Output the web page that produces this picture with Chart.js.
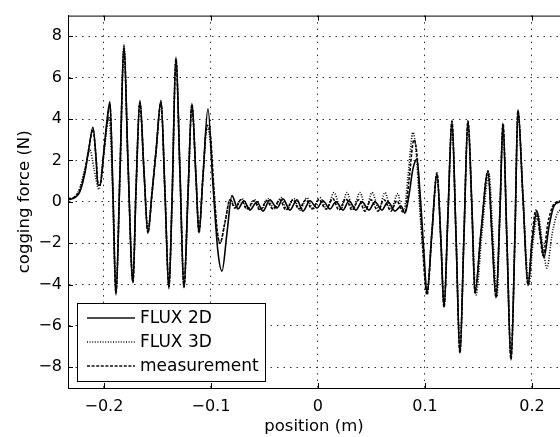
<!DOCTYPE html>
<html>
<head>
<meta charset="utf-8">
<title>cogging force</title>
<script src="https://cdn.jsdelivr.net/npm/chart.js@4.4.1/dist/chart.umd.min.js"></script>
<style>
  html, body { margin: 0; padding: 0; background: #fff; }
  #wrap { width: 560px; height: 437px; position: relative; }
</style>
</head>
<body>
<div id="wrap"><canvas id="cogging"></canvas></div>
<script>
// оси
const xTicks = [-0.2, -0.1, 0, 0.1, 0.2];
const yTicks = [-8, -6, -4, -2, 0, 2, 4, 6, 8];
const seriesNames = ['FLUX 2D', 'FLUX 3D', 'measurement'];

// FLUX 2D
const pos2D = [
  -0.2336, -0.2271, -0.2224, -0.2178, -0.2140, -0.2103, -0.2075, -0.2056, -0.2037, -0.2000, -0.1972, -0.1944,
  -0.1916, -0.1888, -0.1850, -0.1813, -0.1776, -0.1729, -0.1701, -0.1664, -0.1626, -0.1589, -0.1551, -0.1514,
  -0.1467, -0.1430, -0.1393, -0.1364, -0.1327, -0.1290, -0.1252, -0.1215, -0.1178, -0.1140, -0.1112, -0.1075,
  -0.1028, -0.0981, -0.0935, -0.0897, -0.0850, -0.0804, -0.0748, -0.0692, -0.0636, -0.0570, -0.0514, -0.0449,
  -0.0383, -0.0327, -0.0262, -0.0196, -0.0140, -0.0075, -0.0009, 0.0047, 0.0112, 0.0168, 0.0234, 0.0290,
  0.0355, 0.0411, 0.0477, 0.0533, 0.0598, 0.0654, 0.0720, 0.0776, 0.0813, 0.0850, 0.0888, 0.0925,
  0.0953, 0.0991, 0.1019, 0.1065, 0.1112, 0.1150, 0.1178, 0.1215, 0.1252, 0.1290, 0.1327, 0.1364,
  0.1402, 0.1439, 0.1467, 0.1523, 0.1589, 0.1626, 0.1664, 0.1701, 0.1729, 0.1766, 0.1804, 0.1841,
  0.1869, 0.1916, 0.1963, 0.2000, 0.2047, 0.2084, 0.2112, 0.2159, 0.2206, 0.2262
];
const force2D = [
  0.1, 0.2, 0.5, 1.4, 2.6, 3.6, 2.2, 0.8, 0.8, 2.5, 3.9, 4.85,
  0.5, -4.5, 1.5, 7.6, 2.0, -3.9, 0.5, 4.9, 1.5, -1.5, 0.4, 2.4,
  4.9, 0.5, -4.2, 0.0, 7.0, 1.5, -4.15, 0.3, 4.75, 1.2, -1.5, 1.2,
  4.5, 0.8, -2.4, -3.35, -1.5, 0.3, -0.35, 0.05, -0.4, 0.0, -0.45, 0.1,
  -0.3, 0.15, -0.4, 0.1, -0.45, 0.05, -0.3, 0.05, -0.35, 0.0, -0.4, 0.05,
  -0.4, 0.0, -0.4, 0.0, -0.4, 0.0, -0.45, -0.2, -0.55, 0.3, 1.6, 2.05,
  0.5, -2.5, -4.45, -1.5, 1.35, -2.0, -5.1, -0.6, 3.9, -1.6, -7.3, -1.7,
  3.9, -0.3, -4.4, -1.5, 1.45, -1.6, -4.65, -0.4, 3.75, -1.9, -7.65, -1.6,
  4.45, 0.2, -4.05, -2.0, -0.45, -1.8, -2.7, -1.2, -0.2, 0.0
];

// FLUX 3D
const pos3D = [
  -0.2336, -0.2271, -0.2224, -0.2178, -0.2131, -0.2093, -0.2047, -0.2009, -0.1972, -0.1953, -0.1925, -0.1888,
  -0.1850, -0.1813, -0.1776, -0.1729, -0.1701, -0.1664, -0.1626, -0.1589, -0.1551, -0.1514, -0.1467, -0.1430,
  -0.1393, -0.1364, -0.1327, -0.1290, -0.1252, -0.1215, -0.1178, -0.1140, -0.1112, -0.1075, -0.1037, -0.1009,
  -0.0972, -0.0944, -0.0916, -0.0869, -0.0822, -0.0766, -0.0710, -0.0654, -0.0589, -0.0533, -0.0467, -0.0411,
  -0.0346, -0.0290, -0.0224, -0.0168, -0.0103, -0.0047, 0.0019, 0.0084, 0.0150, 0.0215, 0.0271, 0.0327,
  0.0393, 0.0449, 0.0505, 0.0570, 0.0626, 0.0682, 0.0748, 0.0776, 0.0804, 0.0841, 0.0888, 0.0916,
  0.0953, 0.0991, 0.1019, 0.1065, 0.1112, 0.1150, 0.1178, 0.1215, 0.1252, 0.1290, 0.1327, 0.1364,
  0.1402, 0.1439, 0.1477, 0.1533, 0.1598, 0.1636, 0.1673, 0.1701, 0.1729, 0.1766, 0.1804, 0.1841,
  0.1869, 0.1916, 0.1972, 0.2009, 0.2056, 0.2103, 0.2140, 0.2187, 0.2234, 0.2262
];
const force3D = [
  0.1, 0.25, 0.7, 1.6, 2.5, 1.6, 0.6, 2.0, 3.6, 4.1, 1.5, -4.4,
  1.4, 7.5, 2.0, -3.8, 0.4, 4.8, 1.4, -1.4, 0.5, 2.4, 4.8, 0.4,
  -4.1, 0.0, 6.9, 1.4, -4.1, 0.3, 4.6, 1.2, -1.4, 1.2, 3.6, 3.0,
  0.5, -1.3, -2.0, -1.0, 0.1, -0.3, 0.15, -0.35, 0.1, -0.4, 0.15, -0.35,
  0.2, -0.35, 0.15, -0.4, 0.2, -0.35, 0.2, -0.35, 0.45, -0.35, 0.45, -0.35,
  0.45, -0.35, 0.45, -0.35, 0.45, -0.35, 0.4, -0.3, -0.4, 1.2, 3.35, 2.5,
  -0.5, -3.0, -4.4, -1.4, 1.3, -2.0, -5.0, -0.6, 3.8, -1.6, -7.2, -1.7,
  3.8, -0.4, -4.5, -1.5, 1.35, -1.7, -4.6, -0.5, 3.7, -1.9, -7.5, -1.6,
  4.35, 0.2, -4.0, -2.0, -0.6, -2.2, -3.2, -1.6, -0.6, -0.4
];

// measurement
const posMeas = [
  -0.2336, -0.2271, -0.2224, -0.2178, -0.2140, -0.2103, -0.2075, -0.2056, -0.2037, -0.2000, -0.1972, -0.1944,
  -0.1916, -0.1888, -0.1850, -0.1813, -0.1776, -0.1729, -0.1701, -0.1664, -0.1626, -0.1589, -0.1551, -0.1514,
  -0.1467, -0.1430, -0.1393, -0.1364, -0.1327, -0.1290, -0.1252, -0.1215, -0.1178, -0.1140, -0.1112, -0.1075,
  -0.1037, -0.1009, -0.0972, -0.0944, -0.0916, -0.0869, -0.0822, -0.0776, -0.0720, -0.0664, -0.0598, -0.0542,
  -0.0477, -0.0421, -0.0355, -0.0299, -0.0234, -0.0178, -0.0112, -0.0056, 0.0009, 0.0075, 0.0140, 0.0196,
  0.0262, 0.0318, 0.0383, 0.0439, 0.0495, 0.0561, 0.0617, 0.0682, 0.0738, 0.0785, 0.0813, 0.0850,
  0.0897, 0.0925, 0.0963, 0.1019, 0.1065, 0.1112, 0.1150, 0.1178, 0.1215, 0.1252, 0.1290, 0.1327,
  0.1364, 0.1402, 0.1439, 0.1467, 0.1523, 0.1589, 0.1626, 0.1664, 0.1701, 0.1729, 0.1766, 0.1804,
  0.1841, 0.1869, 0.1916, 0.1963, 0.2000, 0.2037, 0.2075, 0.2103, 0.2150, 0.2196, 0.2262
];
const forceMeas = [
  0.15, 0.25, 0.6, 1.5, 2.6, 3.5, 2.2, 0.9, 0.8, 2.4, 3.8, 4.7,
  0.4, -4.4, 1.5, 7.4, 2.0, -3.9, 0.5, 4.8, 1.5, -1.5, 0.4, 2.4,
  4.8, 0.5, -4.1, 0.0, 6.9, 1.5, -4.1, 0.3, 4.7, 1.2, -1.5, 1.2,
  3.7, 3.4, 0.6, -1.3, -2.0, -1.0, 0.1, -0.3, 0.1, -0.35, 0.05, -0.4,
  0.05, -0.35, 0.1, -0.4, 0.1, -0.35, 0.1, -0.35, 0.1, -0.35, 0.15, -0.4,
  0.15, -0.4, 0.1, -0.45, 0.1, -0.45, 0.1, -0.45, 0.05, -0.45, -0.5, 1.0,
  3.0, 2.3, -0.8, -4.5, -1.5, 1.4, -2.0, -5.1, -0.6, 3.9, -1.6, -7.3,
  -1.7, 3.9, -0.3, -4.4, -1.5, 1.5, -1.6, -4.6, -0.4, 3.8, -1.9, -7.6,
  -1.6, 4.4, 0.2, -4.0, -1.8, -0.4, -1.6, -2.6, -1.0, -0.2, 0.05
];

const FONT = 'DejaVu Sans, Liberation Sans, Arial, sans-serif';
const lineDash = [[], [1, 1.6], [3, 1.6]];

function toPoints(xs, ys) {
  return xs.map((x, i) => ({ x, y: ys[i] }));
}
function minus(v) {
  return String(v).replace('-', '\u2212');
}

// рамка в стиле Matlab: верхняя граница и внутренние засечки
const framePlugin = {
  id: 'frame',
  afterDatasetsDraw(chart) {
    const { ctx, chartArea: a, scales } = chart;
    ctx.save();
    ctx.strokeStyle = '#000';
    ctx.lineWidth = 1;
    ctx.beginPath();
    ctx.moveTo(a.left, a.top + 0.5);
    ctx.lineTo(a.right, a.top + 0.5);
    xTicks.forEach(v => {
      const px = Math.round(scales.x.getPixelForValue(v)) + 0.5;
      ctx.moveTo(px, a.bottom); ctx.lineTo(px, a.bottom - 5);
      ctx.moveTo(px, a.top); ctx.lineTo(px, a.top + 5);
    });
    yTicks.forEach(v => {
      const py = Math.round(scales.y.getPixelForValue(v)) + 0.5;
      ctx.moveTo(a.left, py); ctx.lineTo(a.left + 5, py);
    });
    ctx.stroke();
    ctx.restore();
  }
};

// легенда внутри области графика (левый нижний угол)
const legendBoxPlugin = {
  id: 'legendBox',
  afterDraw(chart) {
    const { ctx } = chart;
    const box = { x: 77.5, y: 303.5, w: 188, h: 78 };
    ctx.save();
    ctx.fillStyle = '#fff';
    ctx.fillRect(box.x, box.y, box.w, box.h);
    ctx.strokeStyle = '#000';
    ctx.lineWidth = 1;
    ctx.strokeRect(box.x, box.y, box.w, box.h);
    ctx.font = '17px ' + FONT;
    ctx.textBaseline = 'middle';
    ctx.fillStyle = '#000';
    seriesNames.forEach((name, i) => {
      const y = 318 + i * 24;
      ctx.setLineDash(lineDash[i]);
      ctx.lineWidth = 1.3;
      ctx.strokeStyle = '#111';
      ctx.beginPath();
      ctx.moveTo(87, y);
      ctx.lineTo(135, y);
      ctx.stroke();
      ctx.setLineDash([]);
      ctx.fillText(name, 140, y + 1);
    });
    ctx.restore();
  }
};

function makeSet(label, xs, ys, i) {
  return {
    label,
    data: toPoints(xs, ys),
    borderColor: '#000',
    borderWidth: 1.6,
    borderDash: lineDash[i],
    pointRadius: 0,
    cubicInterpolationMode: 'monotone',
    fill: false
  };
}

new Chart(document.getElementById('cogging'), {
  type: 'line',
  data: {
    datasets: [
      makeSet(seriesNames[0], pos2D, force2D, 0),
      makeSet(seriesNames[1], pos3D, force3D, 1),
      makeSet(seriesNames[2], posMeas, forceMeas, 2)
    ]
  },
  options: {
    responsive: true,
    maintainAspectRatio: false,
    animation: false,
    events: [],
    layout: { padding: { top: 11, right: 0, left: 0, bottom: 0 } },
    plugins: { legend: { display: false }, tooltip: { enabled: false } },
    scales: {
      x: {
        type: 'linear',
        min: -0.2336,
        max: 0.2262,
        afterBuildTicks: s => { s.ticks = xTicks.map(v => ({ value: v })); },
        afterFit: s => { s.height = 49; },
        grid: { color: '#333', lineWidth: 1, drawTicks: false },
        border: { display: true, color: '#000', width: 1, dash: [1.5, 5] },
        ticks: {
          color: '#000', padding: 9, maxRotation: 0, autoSkip: false,
          font: { family: FONT, size: 16 },
          callback: v => minus(v)
        },
        title: {
          display: true, text: 'position (m)', color: '#000',
          font: { family: FONT, size: 16.5 }, padding: { top: 0, bottom: 0 }
        }
      },
      y: {
        type: 'linear',
        min: -9,
        max: 9,
        afterBuildTicks: s => { s.ticks = yTicks.map(v => ({ value: v })); },
        afterFit: s => { s.width = 68; },
        grid: { color: '#333', lineWidth: 1, drawTicks: false },
        border: { display: true, color: '#000', width: 1, dash: [1.5, 5] },
        ticks: {
          color: '#000', padding: 6, autoSkip: false,
          font: { family: FONT, size: 16 },
          callback: v => minus(v)
        },
        title: {
          display: true, text: 'cogging force (N)', color: '#000',
          font: { family: FONT, size: 16.5 }, padding: { top: 15, bottom: 0 }
        }
      }
    }
  },
  plugins: [framePlugin, legendBoxPlugin]
});
</script>
</body>
</html>
